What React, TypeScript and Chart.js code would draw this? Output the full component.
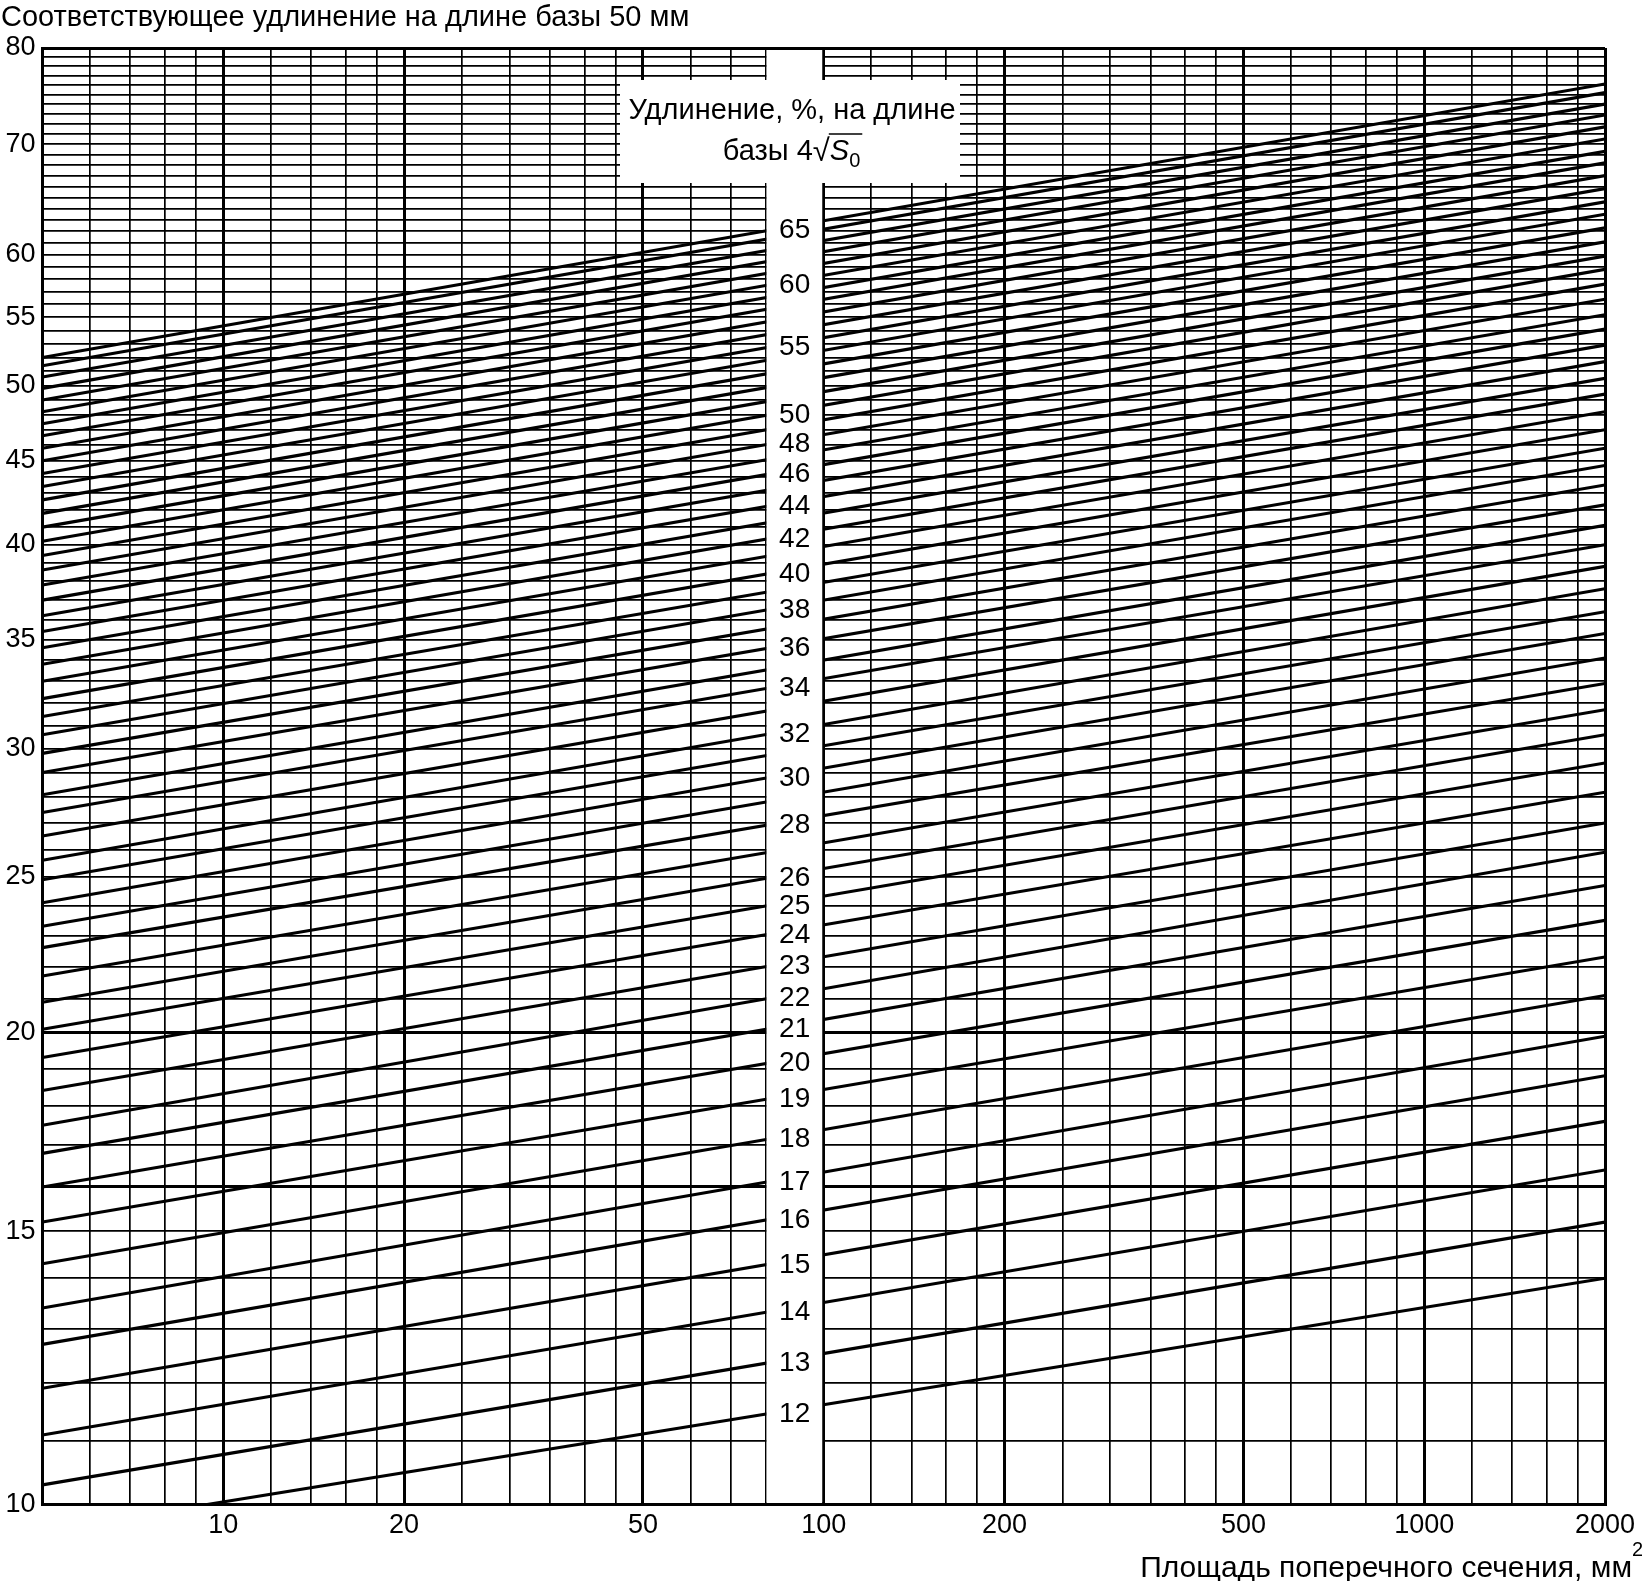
import React, { useEffect, useRef } from 'react';
import { Chart, registerables, LogarithmicScale } from 'chart.js';

Chart.register(...registerables);

const FONT = '"Liberation Sans", Arial, Helvetica, sans-serif';

// Elongation on gauge length 4*sqrt(S0), % (one straight line per value)
const ELONGATION_4SQRT = [
  12, 13, 14, 15, 16, 17, 18, 19, 20, 21, 22, 23, 24, 25, 26, 27, 28, 29, 30, 31,
  32, 33, 34, 35, 36, 37, 38, 39, 40, 41, 42, 43, 44, 45, 46, 47, 48, 49, 50, 51,
  52, 53, 54, 55, 56, 57, 58, 59, 60, 61, 62, 63, 64, 65,
];
// cross-section (mm²) where each line enters the plot on the left
const START_AREA = [
  9.4, 5, 5, 5, 5, 5, 5, 5, 5, 5, 5, 5, 5, 5, 5, 5, 5, 5, 5, 5,
  5, 5, 5, 5, 5, 5, 5, 5, 5, 5, 5, 5, 5, 5, 5, 5, 5, 5, 5, 5,
  5, 5, 5, 5, 5, 5, 5, 5, 5, 5, 5, 5, 5, 5,
];
// elongation on 50 mm at that left point
const START_VALUE = [
  10.0, 10.3, 11.1, 11.9, 12.7, 13.4, 14.3, 15.2, 16.0, 16.8, 17.5, 18.4, 19.3, 20.1, 20.9, 21.7, 22.6, 23.3, 24.1, 24.9,
  25.6, 26.5, 27.4, 28.1, 29.0, 29.8, 30.6, 31.4, 32.2, 33.0, 33.8, 34.6, 35.4, 36.2, 37.0, 37.8, 38.6, 39.4, 40.2, 41.0,
  41.8, 42.6, 43.4, 44.2, 45.0, 45.8, 46.6, 47.4, 48.2, 49.0, 49.8, 50.6, 51.4, 52.0,
];
const END_AREA = 2000;
// elongation on 50 mm at S0 = 2000 mm²
const END_VALUE = [
  14.0, 15.2, 16.4, 17.6, 18.8, 19.9, 21.1, 22.3, 23.5, 24.7, 25.9, 27.0, 28.2, 29.4, 30.6, 31.7, 32.9, 34.1, 35.3, 36.4,
  37.6, 38.8, 40.0, 41.1, 42.3, 43.5, 44.7, 45.8, 47.0, 48.2, 49.4, 50.5, 51.7, 52.9, 54.1, 55.2, 56.4, 57.6, 58.8, 59.9,
  61.1, 62.3, 63.5, 64.6, 65.8, 67.0, 68.2, 69.3, 70.5, 71.7, 72.9, 74.0, 75.2, 76.1,
];
const STRIP_LABELS = [12, 13, 14, 15, 16, 17, 18, 19, 20, 21, 22, 23, 24, 25, 26, 28, 30, 32, 34, 36, 38, 40, 42, 44, 46, 48, 50, 55, 60, 65];

const X_GRID = [5, 6, 7, 8, 9, 10, 12, 14, 16, 18, 20, 25, 30, 35, 40, 45, 50, 60, 70, 80, 100, 120, 140, 160, 180, 200, 250, 300, 350, 400, 450, 500, 600, 700, 800, 900, 1000, 1200, 1400, 1600, 1800, 2000];
const X_LABELS = [10, 20, 50, 100, 200, 500, 1000, 2000];
const X_THICK = [5, 10, 20, 50, 100, 200, 500, 1000, 2000];
const Y_GRID = [
  10, 11, 12, 13, 14, 15, 16, 17, 18, 19, 20, 21, 22, 23, 24, 25, 26, 27, 28, 29, 30,
  31, 32, 33, 34, 35, 36, 37, 38, 39, 40, 41, 42, 43, 44, 45, 46, 47, 48, 49, 50,
  51, 52, 53, 54, 55, 56, 57, 58, 59, 60, 61, 62, 63, 64, 65, 66, 67, 68, 69, 70,
  71, 72, 73, 74, 75, 76, 77, 78, 79, 80,
];
const Y_LABELS = [10, 15, 20, 25, 30, 35, 40, 45, 50, 55, 60, 70, 80];
const Y_THICK = [10, 16, 20, 80];

const TITLE = 'Соответствующее удлинение на длине базы 50 мм';
const X_TITLE = 'Площадь поперечного сечения, мм';
const BOX_LINE1 = 'Удлинение, %, на длине';
const BOX_LINE2 = 'базы 4';

// the printed ordinate is slightly stretched towards the top: log(v + 1)
const Y_SHIFT = 1;

class ShiftedLogScale extends (LogarithmicScale as any) {
  static id = 'shiftedLog';
  static defaults = (LogarithmicScale as any).defaults;
  _s0 = 0;
  _rng = 1;
  configure() {
    super.configure();
    this._s0 = Math.log10(this.min + Y_SHIFT);
    this._rng = Math.log10(this.max + Y_SHIFT) - this._s0;
  }
  getPixelForValue(value: number) {
    if (value === undefined || value === null || isNaN(value)) return NaN;
    return this.getPixelForDecimal((Math.log10(value + Y_SHIFT) - this._s0) / this._rng);
  }
  getValueForPixel(pixel: number) {
    const d = this.getDecimalForPixel(pixel);
    return Math.pow(10, this._s0 + d * this._rng) - Y_SHIFT;
  }
}
Chart.register(ShiftedLogScale as any);

const overlay = {
  id: 'overlay',
  afterDatasetsDraw(chart: any) {
    const { ctx, chartArea: a, scales } = chart;
    const x = scales.x;
    const y = scales.y;
    const sx0 = x.getPixelForValue(80);
    const sx1 = x.getPixelForValue(100);
    ctx.save();
    ctx.fillStyle = '#fff';
    ctx.fillRect(sx0 + 1, a.top + 2, sx1 - sx0 - 2.5, a.bottom - a.top - 4);
    // caption box
    ctx.fillRect(620, 80, 340, 103);

    ctx.fillStyle = '#000';
    ctx.strokeStyle = '#000';
    // strip labels
    ctx.font = `28px ${FONT}`;
    ctx.textAlign = 'center';
    ctx.textBaseline = 'middle';
    const cx = (sx0 + sx1) / 2;
    const px1 = x.getPixelForValue(END_AREA);
    STRIP_LABELS.forEach((L) => {
      const i = ELONGATION_4SQRT.indexOf(L);
      const px0 = x.getPixelForValue(START_AREA[i]);
      const py0 = y.getPixelForValue(START_VALUE[i]);
      const py1 = y.getPixelForValue(END_VALUE[i]);
      const py = py0 + ((py1 - py0) * (sx1 - px0)) / (px1 - px0);
      ctx.fillText(String(L), cx, py + 10);
    });

    // caption text
    ctx.textBaseline = 'alphabetic';
    ctx.font = `29px ${FONT}`;
    ctx.fillText(BOX_LINE1, 792, 119);
    const fMain = `29px ${FONT}`;
    const fRoot = `31px ${FONT}`;
    const fIt = `italic 29px ${FONT}`;
    const fSub = `20px ${FONT}`;
    ctx.font = fMain;
    const w1 = ctx.measureText(BOX_LINE2).width;
    ctx.font = fRoot;
    const wr = ctx.measureText('√').width;
    ctx.font = fIt;
    const ws = ctx.measureText('S').width;
    ctx.font = fSub;
    const w0 = ctx.measureText('0').width;
    const total = w1 + wr + ws + w0 + 1;
    let xx = 792 - total / 2;
    const base = 160;
    ctx.textAlign = 'left';
    ctx.font = fMain;
    ctx.fillText(BOX_LINE2, xx, base);
    xx += w1;
    ctx.font = fRoot;
    ctx.fillText('√', xx, base + 1);
    const barStart = xx + wr - 1;
    xx += wr;
    ctx.font = fIt;
    ctx.fillText('S', xx, base);
    xx += ws;
    ctx.font = fSub;
    ctx.fillText('0', xx, base + 7);
    ctx.lineWidth = 1.6;
    ctx.beginPath();
    ctx.moveTo(barStart, base - 26);
    ctx.lineTo(xx + w0 + 2, base - 26);
    ctx.stroke();

    // chart title
    ctx.font = `29px ${FONT}`;
    ctx.textAlign = 'left';
    ctx.fillText(TITLE, 1, 26);
    // x axis title
    ctx.font = `30px ${FONT}`;
    ctx.textAlign = 'right';
    ctx.fillText(X_TITLE, 1632, 1577);
    ctx.textAlign = 'left';
    ctx.font = `20px ${FONT}`;
    ctx.fillText('2', 1632, 1556);
    ctx.restore();
  },
};

export default function App() {
  const ref = useRef<HTMLCanvasElement | null>(null);
  useEffect(() => {
    document.body.style.margin = '0';
    const canvas = ref.current;
    if (!canvas) return;
    const datasets = ELONGATION_4SQRT.map((a, i) => ({
      label: String(a),
      data: [
        { x: START_AREA[i], y: START_VALUE[i] },
        { x: END_AREA, y: END_VALUE[i] },
      ],
      borderColor: '#000',
      borderWidth: 3.1,
      pointRadius: 0,
      fill: false,
      tension: 0,
    }));
    const chart = new Chart(canvas, {
      type: 'line',
      data: { datasets },
      plugins: [overlay],
      options: {
        responsive: false,
        animation: false,
        devicePixelRatio: 1,
        layout: { padding: { top: 48, right: 37, bottom: 0, left: 0 } },
        plugins: { legend: { display: false }, tooltip: { enabled: false }, title: { display: false } },
        scales: {
          x: {
            type: 'logarithmic',
            min: 5,
            max: 2000,
            afterBuildTicks: (s: any) => {
              s.ticks = X_GRID.map((v) => ({ value: v }));
            },
            afterFit: (s: any) => {
              s.height = 76.5;
            },
            ticks: {
              autoSkip: false,
              maxRotation: 0,
              padding: 5,
              color: '#000',
              font: { family: FONT, size: 27 },
              callback: (v: any) => (X_LABELS.includes(Number(v)) ? String(v) : ''),
            },
            grid: {
              color: '#000',
              drawTicks: false,
              lineWidth: (c: any) => (c.tick && X_THICK.includes(c.tick.value) ? 3 : 1.7),
            },
            border: { display: true, color: '#000', width: 3 },
          },
          y: {
            type: 'shiftedLog' as any,
            min: 10,
            max: 80,
            afterBuildTicks: (s: any) => {
              s.ticks = Y_GRID.map((v) => ({ value: v }));
            },
            afterFit: (s: any) => {
              s.width = 42.5;
            },
            ticks: {
              autoSkip: false,
              padding: 7,
              color: '#000',
              font: { family: FONT, size: 27 },
              callback: (v: any) => (Y_LABELS.includes(Number(v)) ? String(v) : ''),
            },
            grid: {
              color: '#000',
              drawTicks: false,
              lineWidth: (c: any) => (c.tick && Y_THICK.includes(c.tick.value) ? 3 : 1.7),
            },
            border: { display: true, color: '#000', width: 3 },
          },
        },
      } as any,
    });
    return () => chart.destroy();
  }, []);
  return <canvas ref={ref} width={1642} height={1581} style={{ display: 'block' }} />;
}
